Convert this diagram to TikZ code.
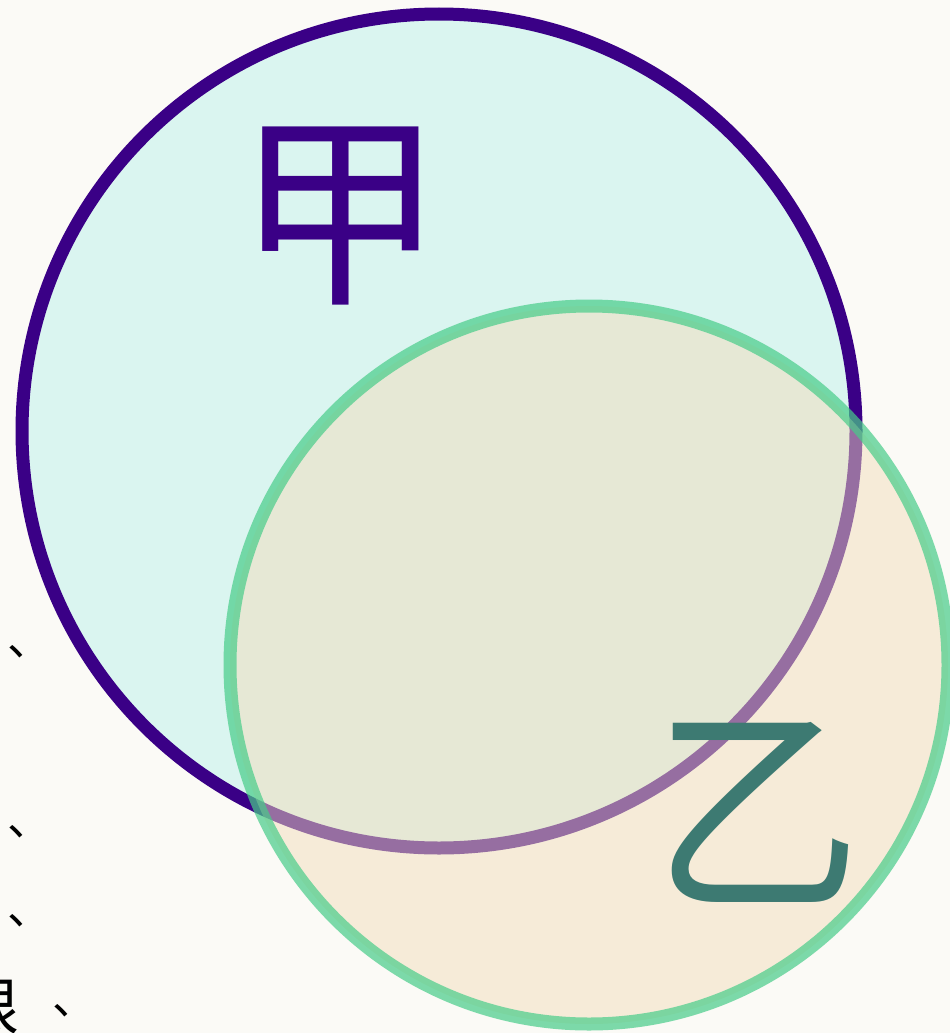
\documentclass[tikz,border=0pt]{standalone}
\usepackage{fontspec}
\newfontfamily\cjk{Noto Sans CJK SC}
\definecolor{bgc}{RGB}{251,250,246}
\definecolor{purp}{RGB}{58,0,134}
\definecolor{cyanfill}{RGB}{218,245,240}
\definecolor{peach}{RGB}{243,221,188}
\definecolor{grn}{RGB}{71,204,137}
\definecolor{tealc}{RGB}{61,122,114}
\tikzset{
  setA/.style={circle, draw=purp, line width=13pt, fill=cyanfill, inner sep=0pt, minimum size=834pt},
  setB/.style={circle, draw=grn, draw opacity=0.7, fill=peach, fill opacity=0.5, line width=13pt, inner sep=0pt, minimum size=718pt},
  biglabel/.style={inner sep=0pt, font=\cjk\fontsize{208}{208}\selectfont},
  commark/.style={inner sep=0pt, anchor=west, font=\cjk\fontsize{45}{45}\selectfont},
}
\begin{document}
\begin{tikzpicture}[x=1pt,y=-1pt]
\useasboundingbox (0,0) rectangle (950,1033);
\clip (0,0) rectangle (950,1033);
\fill[bgc] (0,0) rectangle (950,1033);
\node[setA] (A) at (439,431) {};
\node[setB] (B) at (589,665) {};
\node[biglabel, text=purp] (jia) at (340,216) {甲};
\node[biglabel, text=tealc, yscale=1.08] (yi) at (757,812) {乙};
\node[commark] (m1) at (7,652) {、};
\node[commark] (m2) at (7,832) {、};
\node[commark] (m3) at (7,921) {、};
\node[commark] (m4) at (52,1011) {、};
\node[inner sep=0pt, anchor=north east, font=\cjk\fontsize{62}{62}\selectfont] (cut) at (20,980) {限};
\end{tikzpicture}
\end{document}
